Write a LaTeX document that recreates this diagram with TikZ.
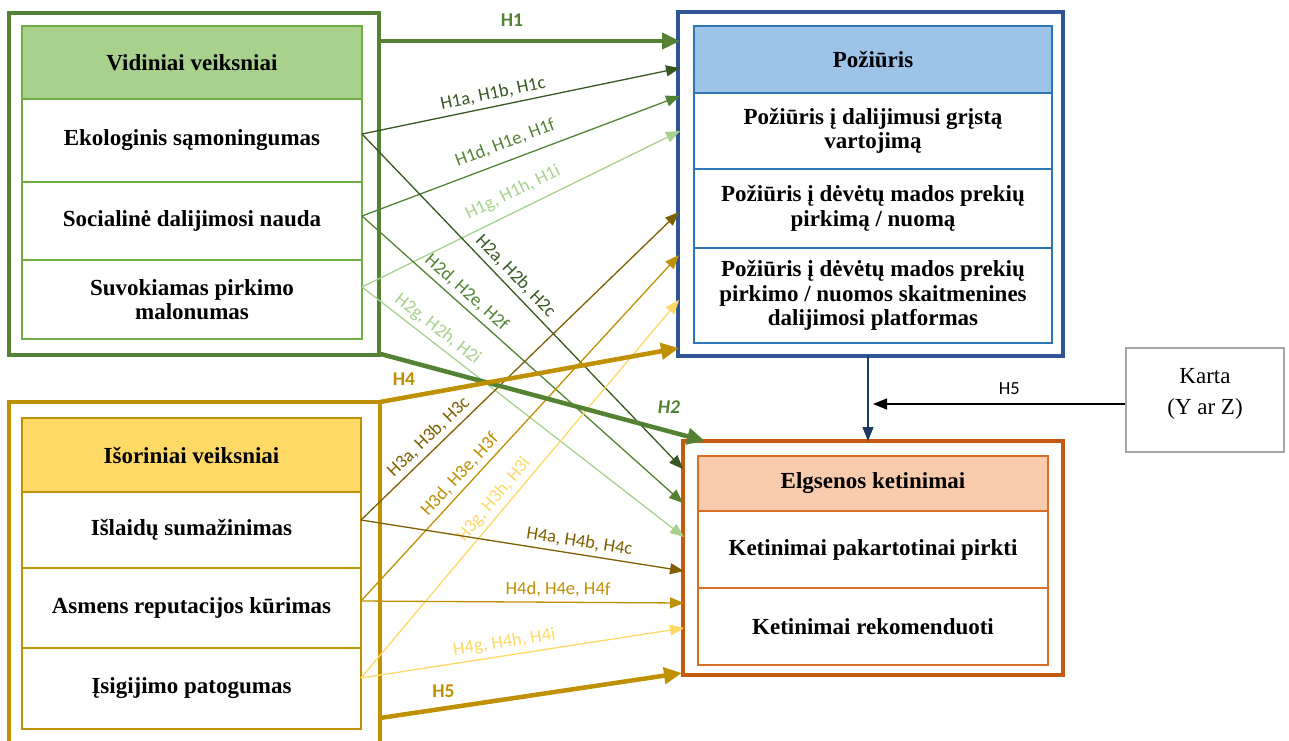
\documentclass[tikz,border=0pt]{standalone}
\usepackage{fontspec}
\setmainfont{Liberation Serif}
\newfontfamily\lab{Carlito}
\usetikzlibrary{arrows.meta}
\definecolor{gdark}{HTML}{548235}
\definecolor{gline}{HTML}{70AD47}
\definecolor{gfill}{HTML}{A9D18E}
\definecolor{gdeep}{HTML}{385723}
\definecolor{glight}{HTML}{A9D18E}
\definecolor{ydark}{HTML}{BF9000}
\definecolor{yfill}{HTML}{FFD966}
\definecolor{ydeep}{HTML}{7F6000}
\definecolor{ylight}{HTML}{FFD966}
\definecolor{bdark}{HTML}{2F5597}
\definecolor{bline}{HTML}{2E75B6}
\definecolor{bfill}{HTML}{9DC3E6}
\definecolor{barrow}{HTML}{203864}
\definecolor{odark}{HTML}{C55A11}
\definecolor{oline}{HTML}{D86E27}
\definecolor{ofill}{HTML}{F8CBAD}
\definecolor{kgray}{HTML}{A6A6A6}
\tikzset{
  boxtxt/.style={font=\fontsize{23}{24.5}\selectfont\bfseries, align=center, inner sep=0pt},
  outerbox/.style={draw, line width=4.7pt, fill=white},
  gcell/.style={boxtxt, draw=gline, line width=2pt, minimum width=340pt},
  ycell/.style={boxtxt, draw=ydark, line width=2pt, minimum width=339pt},
  bcell/.style={boxtxt, draw=bline, line width=2pt, minimum width=358pt},
  ocell/.style={boxtxt, draw=oline, line width=2pt, minimum width=350pt},
  thinarr/.style={line width=1.3pt, -{Triangle[length=14pt,width=11pt]}},
  thickarr/.style={line width=4.5pt, -{Triangle[length=18pt,width=16pt]}},
  lbl/.style={font=\lab\fontsize{18.5}{20}\selectfont, sloped, above=3.5pt, inner sep=1pt},
  tlbl/.style={font=\lab\bfseries\fontsize{19.5}{21}\selectfont, inner sep=0pt},
}
\begin{document}
\begin{tikzpicture}[x=1pt,y=-1pt]
\useasboundingbox (0,0) rectangle (1289,740);
\fill[white] (0,0) rectangle (1289,740);

% outer boxes
\node[outerbox, draw=gdark, minimum width=370pt, minimum height=342pt] (G) at (194,184) {};
\draw[line width=4.7pt, ydark] (9,770) -- (9,402) -- (380,402) -- (380,770);
\node[outerbox, draw=bdark, minimum width=385pt, minimum height=344pt] (B) at (870.5,184) {};
\node[outerbox, draw=odark, minimum width=380pt, minimum height=234pt] (O) at (873,558) {};

% green table
\node[gcell, fill=gfill, minimum height=73pt] (gh) at (192,62.5) {Vidiniai veiksniai};
\node[gcell, minimum height=83pt] (g1) at (192,140.5) {Ekologinis sąmoningumas};
\node[gcell, minimum height=78pt] (g2) at (192,221) {Socialinė dalijimosi nauda};
\node[gcell, minimum height=79pt] (g3) at (192,299.5) {Suvokiamas pirkimo\\malonumas};

% yellow table
\node[ycell, fill=yfill, minimum height=74pt] (yh) at (191.5,455) {Išoriniai veiksniai};
\node[ycell, minimum height=76pt] (y1) at (191.5,530) {Išlaidų sumažinimas};
\node[ycell, minimum height=80pt] (y2) at (191.5,608) {Asmens reputacijos kūrimas};
\node[ycell, minimum height=81pt] (y3) at (191.5,688.5) {Įsigijimo patogumas};

% blue table
\node[bcell, fill=bfill, minimum height=67pt] (bh) at (873,59.5) {Požiūris};
\node[bcell, minimum height=76pt] (b1) at (873,131) {Požiūris į dalijimusi grįstą\\vartojimą};
\node[bcell, minimum height=79pt] (b2) at (873,208.5) {Požiūris į dėvėtų mados prekių\\pirkimą / nuomą};
\node[bcell, minimum height=95pt] (b3) at (873,295.5) {Požiūris į dėvėtų mados prekių\\pirkimo / nuomos skaitmenines\\dalijimosi platformas};

% orange table
\node[ocell, fill=ofill, minimum height=55pt] (oh) at (873,483.5) {Elgsenos ketinimai};
\node[ocell, minimum height=77pt] (o1) at (873,549.5) {Ketinimai pakartotinai pirkti};
\node[ocell, minimum height=77pt] (o2) at (873,626.5) {Ketinimai rekomenduoti};

% Karta
\node[draw=kgray, line width=1.5pt, minimum width=158pt, minimum height=104pt, align=center,
      font=\fontsize{23}{31}\selectfont, inner sep=0pt, text depth=17pt] (K) at (1205,400) {Karta\\(Y ar Z)};

% coordinates
\coordinate (gs1) at (362,134);
\coordinate (gs2) at (362,216);
\coordinate (gs3) at (362,287);
\coordinate (ys1) at (361,520);
\coordinate (ys2) at (361,601);
\coordinate (ys3) at (361,678);
\coordinate (be1) at (680,68);
\coordinate (be2) at (680,96);
\coordinate (be3) at (680,131);
\coordinate (be4) at (679,212);
\coordinate (be5) at (679,255);
\coordinate (be6) at (679,300);
\coordinate (oe1) at (683,469);
\coordinate (oe2) at (683,503);
\coordinate (oe3) at (684,537);
\coordinate (oe4) at (684,571);
\coordinate (oe5) at (684,603);
\coordinate (oe6) at (684,628);
\coordinate (h1s) at (380,41);
\coordinate (h1e) at (680,41);
\coordinate (h2s) at (377,353);
\coordinate (h2e) at (705,441);
\coordinate (h4s) at (380,402);
\coordinate (h4e) at (679,348);
\coordinate (h5s) at (380,718);
\coordinate (h5e) at (682,673);
\coordinate (ba1) at (868,356);
\coordinate (ba2) at (868,441);
\coordinate (kend) at (873,404);

% thin arrows
\draw[thinarr, gdeep] (gs1) -- node[lbl, pos=0.42] {H1a, H1b, H1c} (be1);
\draw[thinarr, gdark] (gs2) -- node[lbl, pos=0.47, above=5pt] {H1d, H1e, H1f} (be2);
\draw[thinarr, glight] (gs3) -- node[lbl, pos=0.50, above=5pt] {H1g, H1h, H1i} (be3);
\draw[thinarr, gdeep] (gs1) -- node[lbl, pos=0.45] {H2a, H2b, H2c} (oe1);
\draw[thinarr, gdark] (gs2) -- node[lbl, pos=0.30] {H2d, H2e, H2f} (oe2);
\draw[thinarr, glight] (gs3) -- node[lbl, pos=0.21] {H2g, H2h, H2i} (oe3);
\draw[thinarr, ydeep] (ys1) -- node[lbl, pos=0.24] {H3a, H3b, H3c} (be4);
\draw[thinarr, ydark] (ys2) -- node[lbl, pos=0.34] {H3d, H3e, H3f} (be5);
\draw[thinarr, ylight] (ys3) -- node[lbl, pos=0.45] {H3g, H3h, H3i} (be6);
\draw[thinarr, ydeep] (ys1) -- node[lbl, pos=0.67] {H4a, H4b, H4c} (oe4);
\draw[thinarr, ydark] (ys2) -- node[lbl, pos=0.61] {H4d, H4e, H4f} (oe5);
\draw[thinarr, ylight] (ys3) -- node[lbl, pos=0.45] {H4g, H4h, H4i} (oe6);

% thick arrows
\draw[thickarr, gdark] (h1s) -- node[tlbl, pos=0.44, above=12pt] {H1} (h1e);
\draw[thickarr, gdark] (h2s) -- node[tlbl, pos=0.89, above=16pt] {\itshape H2} (h2e);
\draw[thickarr, ydark] (h4s) -- node[tlbl, pos=0.08, above=10pt] {H4} (h4e);
\draw[thickarr, ydark] (h5s) -- node[tlbl, pos=0.21, above=9pt] {H5} (h5e);

% moderator arrows
\draw[line width=1.3pt, barrow, -{Triangle[length=14pt,width=11pt]}] (ba1) -- (ba2);
\draw[line width=1.2pt, black, -{Triangle[length=14pt,width=11pt]}] ([yshift=-4pt]K.west) -- node[font=\lab\fontsize{18.5}{20}\selectfont, above=9pt, inner sep=0pt, pos=0.46] {H5} (kend);
\end{tikzpicture}
\end{document}
